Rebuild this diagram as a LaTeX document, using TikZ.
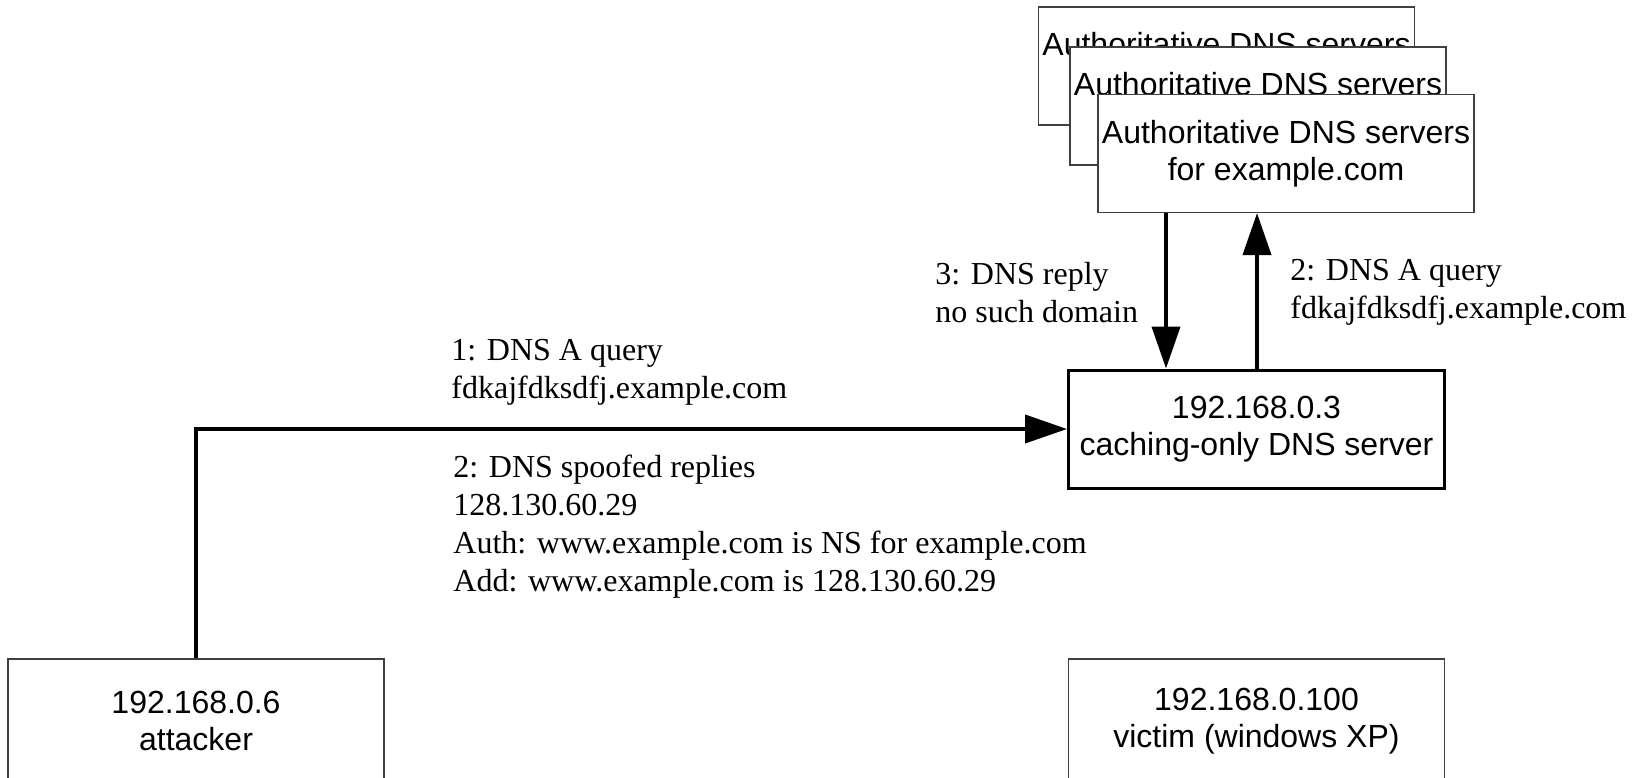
\documentclass[tikz,border=0pt]{standalone}
\usepackage{fontspec}
\setmainfont{Liberation Serif}
\newfontfamily\arialfont{Liberation Sans}
\usepackage{xcolor}
\usepackage{tikz}
\usetikzlibrary{arrows.meta}
\definecolor{edgegray}{HTML}{404040}
\tikzstyle{host}=[rectangle,draw=edgegray,fill=white,line width=0.6pt,minimum width=188pt,minimum height=59pt,align=center,inner sep=0pt,font=\arialfont\fontsize{16}{18.5}\selectfont]
\tikzstyle{pc}=[host,minimum height=62pt]
\tikzstyle{server}=[host,draw=black,line width=1.5pt]
\tikzstyle{note}=[anchor=west,align=left,inner sep=0pt,font=\fontsize{16}{19}\selectfont]
\tikzstyle{flow}=[line width=2pt,-{Triangle[length=21pt,width=14pt]}]

\begin{document}
\begin{tikzpicture}[x=0.5pt,y=-0.5pt]
        \useasboundingbox (0,0) rectangle (1642,777);

        \node at (1226.5,66)  [host]   (auth1) {Authoritative DNS servers\\for example.com};
        \node at (1258,106)   [host]   (auth2) {Authoritative DNS servers\\for example.com};
        \node at (1286,153.5) [host]   (auth3) {Authoritative DNS servers\\for example.com};
        \node at (1256.5,429) [server] (cache) {192.168.0.3\\caching-only DNS server};
        \node at (196,721)    [pc]     (attacker) {192.168.0.6\\attacker};
        \node at (1256.5,721) [pc]     (victim) {192.168.0.100\\victim (windows XP)};

        \coordinate (dn) at (1166,0);
        \coordinate (up) at (1257,0);

        \draw [flow] (attacker.north) |- (cache.west);
        \draw [flow] (auth3.south -| dn) -- (cache.north -| dn);
        \draw [flow] (cache.north -| up) -- (auth3.south -| up);

        \node at (451,372.5) [note] (q1) {1: DNS A query\\fdkajfdksdfj.example.com};
        \node at (453,527)   [note] (spoof) {2: DNS spoofed replies\\128.130.60.29\\Auth: www.example.com is NS for example.com\\Add: www.example.com is 128.130.60.29};
        \node at (935,292.5) [note] (reply) {3: DNS reply\\no such domain};
        \node at (1290,292.5) [note] (q2) {2: DNS A query\\fdkajfdksdfj.example.com};
      \end{tikzpicture}
\end{document}
